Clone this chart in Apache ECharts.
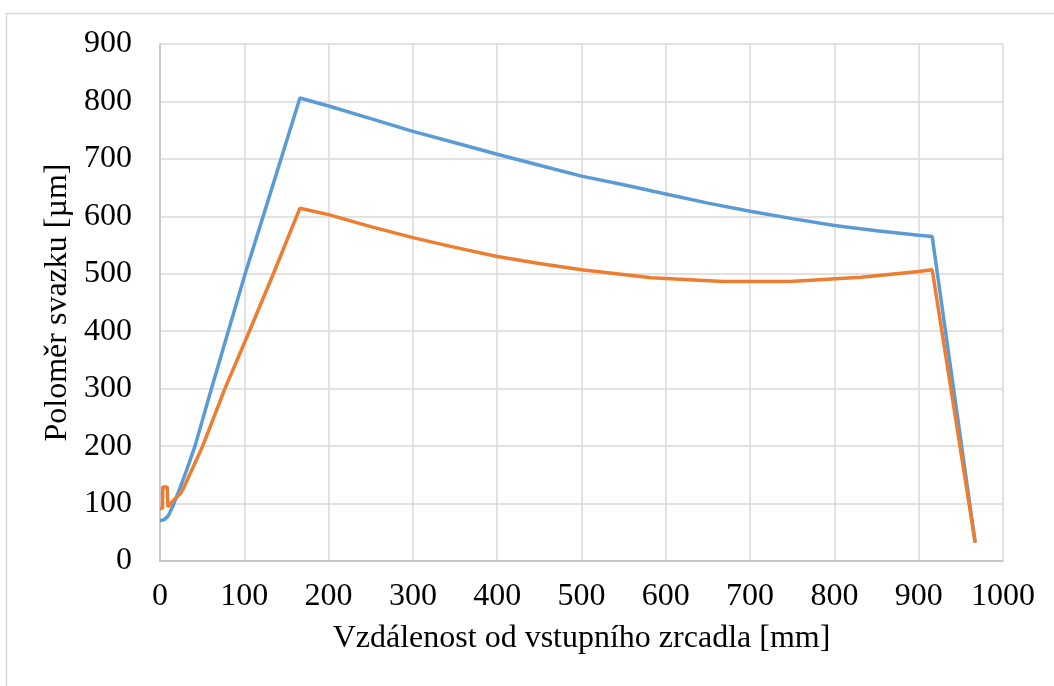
<!DOCTYPE html>
<html>
<head>
<meta charset="utf-8">
<script src="https://cdn.jsdelivr.net/npm/echarts@6/dist/echarts.min.js"></script>
<style>
  html, body { margin: 0; padding: 0; background: #fff; }
  #chart { width: 1054px; height: 686px; }
</style>
</head>
<body>
<div id="chart"></div>
<script>
// Vzdálenost [mm] a poloměr [µm] - modrá řada
const blueX = [0, 5, 10, 16, 24, 32, 41.5, 61, 81, 101, 123, 166, 200, 250, 300, 350, 400, 450, 500, 550, 600, 650, 700, 750, 800, 850, 900, 916, 967];
const blueY = [70, 72, 79, 98, 128, 160, 200, 300, 400, 500, 603, 806, 792, 770, 748, 728, 708, 689, 670, 655, 639, 623, 609, 596, 584, 575, 567, 565, 32];

// oranžová řada
const orangeX = [0, 3, 3.3, 8.5, 9.5, 15, 24, 28, 50.6, 77, 106, 134.5, 162, 166, 200, 250, 300, 350, 400, 450, 500, 583, 668, 747, 832, 900, 916, 967];
const orangeY = [91, 92, 129, 129, 94, 104, 117, 127, 200, 300, 400, 500, 600, 614, 603, 582, 563, 546, 530, 518, 507, 493, 486.5, 486.5, 494, 504, 507, 32];

// tick values
const xTicks = [0, 100, 200, 300, 400, 500, 600, 700, 800, 900, 1000];
const yTicks = [0, 100, 200, 300, 400, 500, 600, 700, 800, 900];

const pairs = (xs, ys) => xs.map((x, i) => [x, ys[i]]);

const font = 'Liberation Serif';
const chart = echarts.init(document.getElementById('chart'));
const option = {
  animation: false,
  backgroundColor: '#fff',
  graphic: [{
    type: 'rect',
    shape: { x: 6.5, y: 13.5, width: 1100, height: 700 },
    style: { fill: 'none', stroke: '#d9d9d9', lineWidth: 1.5 },
    silent: true
  }],
  grid: { left: 160, top: 44, width: 843, height: 517 },
  xAxis: {
    type: 'value',
    min: xTicks[0],
    max: xTicks[xTicks.length - 1],
    interval: 100,
    name: 'Vzdálenost od vstupního zrcadla [mm]',
    nameLocation: 'middle',
    nameGap: 62,
    nameTextStyle: { fontFamily: font, fontSize: 32, color: '#000' },
    axisLine: { lineStyle: { color: '#bfbfbf', width: 1.5 } },
    axisTick: { show: false },
    axisLabel: { fontFamily: font, fontSize: 32, color: '#000', margin: 20, formatter: v => String(v) },
    splitLine: { lineStyle: { color: '#d9d9d9', width: 1.5 } }
  },
  yAxis: {
    type: 'value',
    min: yTicks[0],
    max: yTicks[yTicks.length - 1],
    interval: 100,
    name: 'Poloměr svazku [µm]',
    nameLocation: 'middle',
    nameGap: 81,
    nameTextStyle: { fontFamily: font, fontSize: 32, color: '#000' },
    axisLine: { show: true, lineStyle: { color: '#bfbfbf', width: 1.5 } },
    axisTick: { show: false },
    axisLabel: { fontFamily: font, fontSize: 32, color: '#000', margin: 28, formatter: v => String(v) },
    splitLine: { lineStyle: { color: '#d9d9d9', width: 1.5 } }
  },
  series: [
    {
      type: 'line',
      data: pairs(blueX, blueY),
      showSymbol: false,
      lineStyle: { color: '#5b9bd5', width: 3.5 },
      itemStyle: { color: '#5b9bd5' }
    },
    {
      type: 'line',
      data: pairs(orangeX, orangeY),
      showSymbol: false,
      lineStyle: { color: '#ed7d31', width: 3.5 },
      itemStyle: { color: '#ed7d31' }
    }
  ]
};
option && chart.setOption(option);
</script>
</body>
</html>
